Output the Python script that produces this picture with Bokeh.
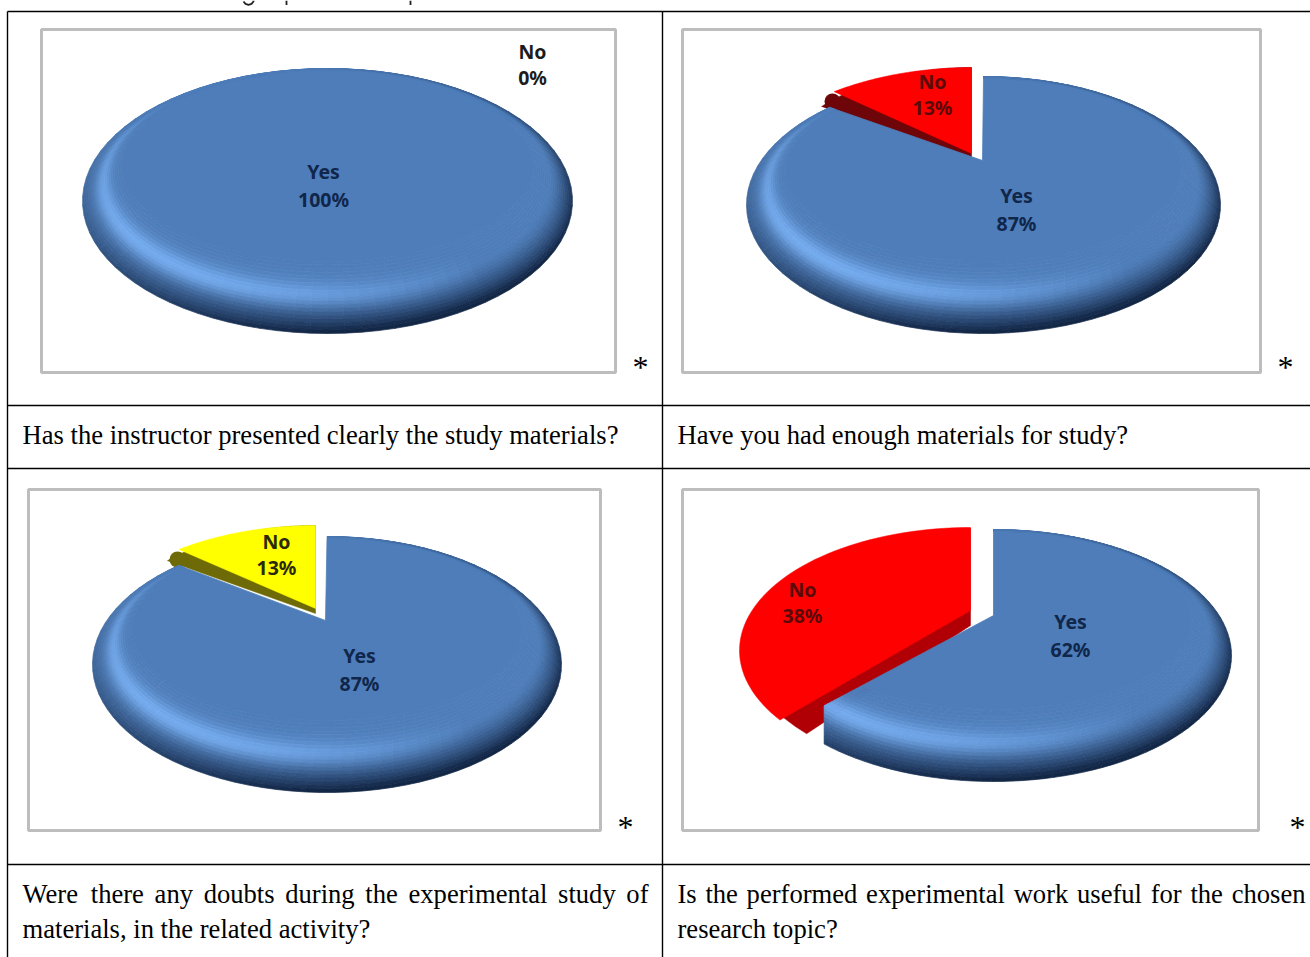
import numpy as np
from bokeh.core.properties import value
from bokeh.embed import file_html
from bokeh.models import ColumnDataSource
from bokeh.plotting import figure
from bokeh.resources import INLINE

# Survey answers, in percent
questions = [
    ["Has the instructor presented clearly the study materials?"],
    ["Have you had enough materials for study?"],
    ["Were there any doubts during the experimental study of", "materials, in the related activity?"],
    ["Is the performed experimental work useful for the chosen", "research topic?"],
]
yes_share = [100, 87, 87, 62]
no_share = [0, 13, 13, 38]
answer_names = ["Yes", "No"]

W, H = 1310, 957
BLUE = np.array([0x4E, 0x7D, 0xB9], float)
BLUE_LIGHT = np.array([0x76, 0xAE, 0xF2], float)
BLUE_DARK = np.array([0x12, 0x26, 0x46], float)

# Placement of each panel: frame, pie ellipse, cut geometry and label anchors
panels = [
    dict(frame=(41, 615, 29, 372), pie=(327, 200.5, 245, 132.5), apex=(327, 170),
         yes_at=(323, 185), no_at=(532, 64), no_ink="#1c1c1c", star=(640, 366)),
    dict(frame=(682, 1260, 29, 372), pie=(983, 204.5, 237, 128.5), apex=(982, 160),
         wedge=(972, 195.5), wedge_r=(237, 128.5), wedge_apex=(971, 153), wedge_q=(0.48, 0.54),
         shade=(971, 195.5), shade_r=(209, 128.5), shade_apex=(971, 158), shade_q=(0.37, 0.65),
         cap=(832, 101, 8), fill="#FE0000", side="#6E0508", cut_q=(0.37, 0.50), end_ring=1.0,
         yes_at=(1016, 209), no_at=(932, 94), no_ink="#5A0A0A", star=(1285, 366)),
    dict(frame=(28, 600, 489, 830), pie=(326.5, 664, 234.5, 128), apex=(325, 620),
         wedge=(315, 653), wedge_r=(234.5, 128), wedge_apex=(315, 608), wedge_q=(0.46, 0.54),
         shade=(315, 653), shade_r=(215, 128), shade_apex=(315, 613), shade_q=(0.38, 0.65),
         cap=(177, 559, 8), fill="#FFFF00", side="#6E6A08", cut_q=(0.40, 0.50), end_ring=1.0,
         yes_at=(359, 669), no_at=(276, 554), no_ink="#2A2A08", star=(625, 826)),
    dict(frame=(682, 1258, 489, 830), pie=(993, 655, 238, 126), apex=(993, 615),
         wedge=(970, 650), wedge_r=(231, 123), wedge_apex=(970, 610), wedge_q=(0.48, 0.54),
         shade=(978, 651), shade_r=(231, 123), shade_apex=(970, 625), shade_q=(0.38, 0.62),
         cap=None, fill="#FE0000", side="#B00006", cut_q=(0.39, 0.50), end_ring=0.5,
         yes_at=(1070, 635), no_at=(802, 602), no_ink="#5A0A0A", star=(1297, 826)),
]

caption_rows = [(22, 648, 434.5, 26.6), (677, 1305, 434.5, 26.6),
                (22, 648, 893.5, 26.6), (677, 1305, 893.5, 26.6)]
LINE_GAP = 35

# Times advance widths, used to spread justified lines across their cell
TIMES = dict(a=444, b=500, c=444, d=500, e=444, f=333, g=500, h=500, i=278, j=278, k=500,
             l=278, m=778, n=500, o=500, p=500, q=500, r=333, s=389, t=278, u=500, v=500,
             w=722, x=500, y=500, z=444, W=944, I=333, H=722)


def word_width(word, size):
    return sum(TIMES.get(c, 300 if c in ",?" else 250) for c in word) * size / 1000


def inner_of(e):
    cx, cy, rx, ry = e
    return (cx, cy - 35, rx - 40, ry - 37)


def ring_of(e, t):
    return tuple(np.array(inner_of(e)) + (np.array(e) - np.array(inner_of(e))) * t)


def on_ellipse(e, s):
    return e[0] + e[2] * np.sin(s), e[1] - e[3] * np.cos(s)


def boundary(share, q):
    """Screen direction of a slice boundary lying `share` percent before 12 o'clock."""
    theta = 2 * np.pi * share / 100
    return -np.sin(theta), -np.cos(theta) * (q[0] if np.cos(theta) > 0 else q[1])


def ray_hit(apex, direction, e):
    dx, dy = direction
    ax, ay = (apex[0] - e[0]) / e[2], (apex[1] - e[1]) / e[3]
    bx, by = dx / e[2], dy / e[3]
    a, b, c = bx**2 + by**2, 2 * (ax * bx + ay * by), ax**2 + ay**2 - 1
    r = (-b + np.sqrt(b**2 - 4 * a * c)) / (2 * a)
    return np.arctan2(ax + r * bx, -(ay + r * by)) % (2 * np.pi)


def rim_colour(s, t):
    light = max(0.0, np.cos(s - np.radians(228))) * np.exp(-((t - 0.5) / 0.2) ** 2)
    dark = (0.5 + 0.5 * np.cos(s - np.radians(150))) * np.clip((t - 0.42) / 0.58, 0, 1) ** 1.5
    rgb = BLUE + (BLUE_LIGHT - BLUE) * min(light, 1)
    rgb = rgb + (BLUE_DARK - rgb) * min(dark * 1.15, 1)
    return "#%02x%02x%02x" % tuple(int(round(v)) for v in rgb)


def rim_cells(e, end_of_ring, rings=20, cells=90):
    ts = np.linspace(0, 1, rings + 1)
    xs, ys, cs = [], [], []
    for j in range(rings):
        for i in range(cells):
            corners = [(i, j), (i + 1, j), (i + 1, j + 1), (i, j + 1)]
            px, py = [], []
            for a, b in corners:
                x, y = on_ellipse(ring_of(e, ts[b]), end_of_ring(ts[b]) * a / cells)
                px.append(x)
                py.append(y)
            xs.append(px)
            ys.append(py)
            cs.append(rim_colour(end_of_ring(ts[j]) * (i + 0.5) / cells, (ts[j] + ts[j + 1]) / 2))
    return xs, ys, cs


def cut_follower(pie, apex, cut, limit):
    """Sweep end per ring: along the cut up to `limit`, then straight down the rim."""
    corner = on_ellipse(ring_of(pie, limit), ray_hit(apex, cut, ring_of(pie, limit)))

    def end_of_ring(t):
        if t <= limit:
            return ray_hit(apex, cut, ring_of(pie, t))
        return ray_hit(corner, (0, 1), ring_of(pie, t))

    return end_of_ring


p = figure(width=W, height=H, x_range=(0, W), y_range=(H, 0), output_backend="svg",
           toolbar_location=None, min_border=0, outline_line_color=None,
           background_fill_color="white", border_fill_color="white")
p.axis.visible = False
p.grid.visible = False

# Table rules
p.segment(x0=[7, 7, 7, 7, 7, 662], y0=[11, 405, 468, 864, 11, 11],
          x1=[W, W, W, W, 7, 662], y1=[11, 405, 468, 864, H, H],
          line_color="black", line_width=1.4)

# Ink left over from the line above the table, trimmed by the page edge
p.segment(x0=[286, 410], y0=[0, 0], x1=[286, 410], y1=[4.5, 4.5], line_color="#222222", line_width=1.8)
p.line([243, 245, 248, 251, 253, 253], [1, 3.4, 4.4, 3.4, 1, 0], line_color="#222222", line_width=1.8)

flat_xs, flat_ys = [], []
wedge_layers, caps = [], []
rim_x, rim_y, rim_c = [], [], []
text_x, text_y, text_s, text_c = [], [], [], []

for panel, yes, no in zip(panels, yes_share, no_share):
    x0, x1, y0, y1 = panel["frame"]
    p.quad(left=x0, right=x1, top=y0, bottom=y1, fill_color=None,
           line_color="#BDBDBD", line_width=3)

    e = panel["pie"]
    if no == 0:
        end_of_ring = lambda t: 2 * np.pi
        head_x, head_y = [], []
    else:
        apex = panel["apex"]
        end_of_ring = cut_follower(e, apex, boundary(no, panel["cut_q"]), panel["end_ring"])
        head_x, head_y = [apex[0]], [apex[1]]

        # Slice pulled out of the pie: a dark side layer beneath a bright top
        for ctr, radii, tip, qs, colour in (
            (panel["shade"], panel["shade_r"], panel["shade_apex"], panel["shade_q"], panel["side"]),
            (panel["wedge"], panel["wedge_r"], panel["wedge_apex"], panel["wedge_q"], panel["fill"]),
        ):
            ell = (ctr[0], ctr[1], *radii)
            start = ray_hit(tip, boundary(no, qs), ell)
            stop = ray_hit(tip, (0, -1), ell)
            stop = stop + 2 * np.pi if stop < start else stop
            ax, ay = on_ellipse(ell, np.linspace(start, stop, 60))
            wedge_layers.append(([tip[0]] + ax.tolist(), [tip[1]] + ay.tolist(), colour))
            if colour == panel["side"] and panel["cap"]:
                caps.append((*panel["cap"], colour))

    fx, fy = on_ellipse(inner_of(e), np.linspace(0, end_of_ring(0.0), 121))
    flat_xs.append(head_x + fx.tolist())
    flat_ys.append(head_y + fy.tolist())

    xs, ys, cs = rim_cells(e, end_of_ring)
    rim_x += xs
    rim_y += ys
    rim_c += cs

    lx, ly = panel["yes_at"]
    text_x += [lx, lx]
    text_y += [ly - 14, ly + 14]
    text_s += [answer_names[0], f"{yes}%"]
    text_c += ["#10264A", "#10264A"]
    lx, ly = panel["no_at"]
    text_x += [lx, lx]
    text_y += [ly - 13, ly + 13]
    text_s += [answer_names[1], f"{no}%"]
    text_c += [panel["no_ink"], panel["no_ink"]]

for cx, cy, r, colour in caps:
    p.circle(x=[cx], y=[cy], radius=r, fill_color=colour, line_color=None)
for wx, wy, colour in wedge_layers:
    p.patch(wx, wy, fill_color=colour, line_color=colour, line_width=0.5)

p.patches(flat_xs, flat_ys, fill_color="#4E7DB9", line_color="#4E7DB9", line_width=0.8)
p.patches("xs", "ys", fill_color="cs", line_color="cs", line_width=0.7,
          source=ColumnDataSource(dict(xs=rim_x, ys=rim_y, cs=rim_c)))

p.text(text_x, text_y, text=text_s, text_color=text_c, text_font=value("Noto Sans"),
       text_font_style="bold", text_font_size="19.5px", text_align="center",
       text_baseline="middle")

# Captions: first lines of two-line cells are justified word by word
cap_x, cap_y, cap_s = [], [], []
for lines, (left, right, base, size) in zip(questions, caption_rows):
    for k, line in enumerate(lines):
        y = base + k * LINE_GAP
        if len(lines) == 2 and k == 0:
            words = line.split()
            widths = [word_width(w, size) for w in words]
            gap = (right - left - sum(widths)) / (len(words) - 1)
            x = left
            for w, wd in zip(words, widths):
                cap_x.append(x)
                cap_y.append(y)
                cap_s.append(w)
                x += wd + gap
        else:
            cap_x.append(left)
            cap_y.append(y)
            cap_s.append(line)
p.text(cap_x, cap_y, text=cap_s, text_color="black", text_font=value("Liberation Serif"),
       text_font_size="26.6px", text_align="left", text_baseline="alphabetic")

# Asterisk beside each chart
p.text([q["star"][0] for q in panels], [q["star"][1] for q in panels], text=["*"] * 4,
       text_color="black", text_font=value("Liberation Serif"), text_font_size="32px",
       text_align="center", text_baseline="alphabetic")

open("out.html", "w").write(file_html(p, INLINE))
